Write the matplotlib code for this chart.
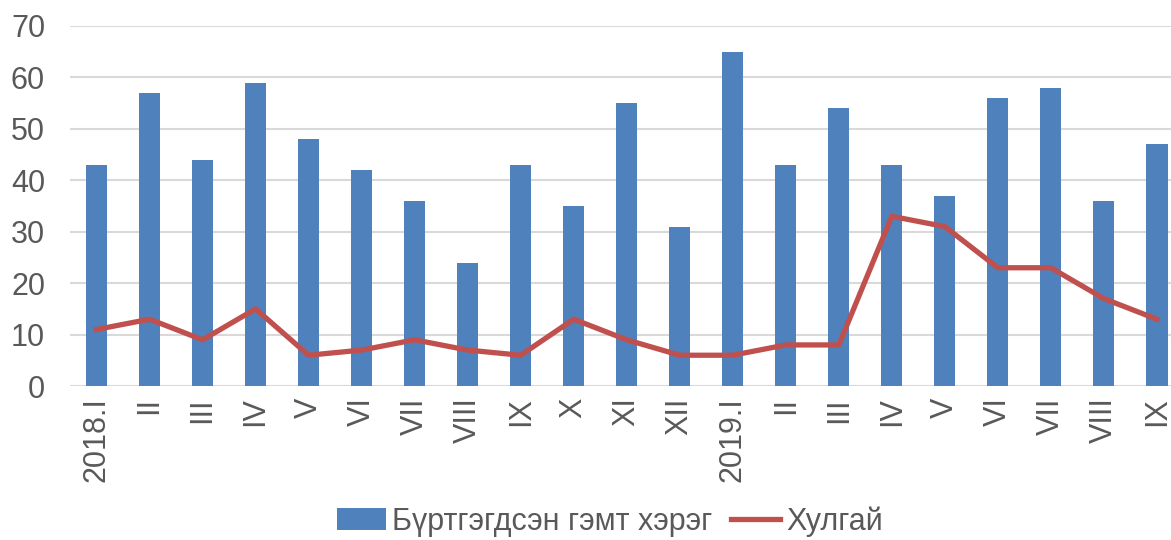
import matplotlib.pyplot as plt
import numpy as np

plt.rcParams['font.family'] = ['Liberation Sans', 'DejaVu Sans']

# Сарууд
months = ["2018.I", "II", "III", "IV", "V", "VI", "VII", "VIII", "IX", "X", "XI", "XII",
          "2019.I", "II", "III", "IV", "V", "VI", "VII", "VIII", "IX"]
crimes = [43, 57, 44, 59, 48, 42, 36, 24, 43, 35, 55, 31,
          65, 43, 54, 43, 37, 56, 58, 36, 47]
theft = [11, 13, 9, 15, 6, 7, 9, 7, 6, 13, 9, 6,
         6, 8, 8, 33, 31, 23, 23, 17, 13]

fig = plt.figure(figsize=(11.71, 5.4), dpi=100)
ax = fig.add_axes([0.0598, 0.285, 0.9508, 0.667])

x = np.arange(len(months))
bars = ax.bar(x, crimes, width=0.4, color="#4F81BD", zorder=2)
line, = ax.plot(x, theft, color="#C0504D", linewidth=3.8, zorder=3)

ax.set_xlim(-0.5, len(months) - 0.5)
ax.set_ylim(0, 70)
ax.set_yticks(range(0, 71, 10))
ax.yaxis.grid(True, color="#D9D9D9", linewidth=1.5, zorder=0)
ax.set_axisbelow(True)

for s in ax.spines.values():
    s.set_visible(False)

ax.set_xticks(x)
ax.set_xticklabels(months, rotation=90, fontsize=22, color="#595959")
ax.tick_params(axis="y", labelsize=22, labelcolor="#595959", length=0, pad=18)
ax.tick_params(axis="x", length=0, pad=8)

fig.legend([bars, line], ["Бүртгэгдсэн гэмт хэрэг", "Хулгай"],
           loc="lower center", bbox_to_anchor=(0.521, -0.045), ncol=2, frameon=False,
           fontsize=22, labelcolor="#595959", handlelength=1.6, columnspacing=0.6,
           handletextpad=0.2)

fig.savefig("out.png", dpi=100)
